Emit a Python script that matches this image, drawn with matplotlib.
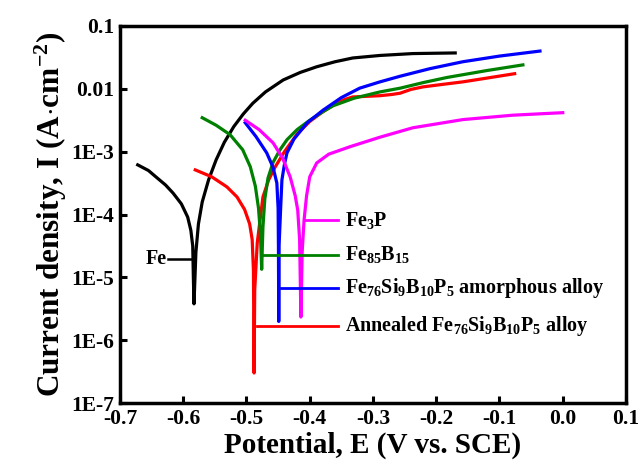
import matplotlib
matplotlib.use('Agg')
import matplotlib.pyplot as plt
import numpy as np
from matplotlib.ticker import FixedLocator, FixedFormatter

plt.rcParams['font.family'] = ['Liberation Serif', 'DejaVu Serif']
plt.rcParams['font.weight'] = 'bold'
plt.rcParams['mathtext.fontset'] = 'custom'
plt.rcParams['mathtext.rm'] = 'Liberation Serif:bold'
plt.rcParams['mathtext.bf'] = 'Liberation Serif:bold'
plt.rcParams['mathtext.default'] = 'rm'

# potential (V vs. SCE) and log10 of current density (A/cm2)
fe_E = [-0.672, -0.655, -0.641, -0.628, -0.616, -0.603, -0.593, -0.588, -0.585, -0.584, -0.583,
        -0.580, -0.576, -0.570, -0.560, -0.548, -0.535, -0.520, -0.505, -0.490, -0.470,
        -0.442, -0.415, -0.389, -0.360, -0.332, -0.289, -0.237, -0.170]
fe_logI = [-3.21, -3.30, -3.42, -3.53, -3.66, -3.83, -4.04, -4.25, -4.50, -5.00, -5.42,
           -4.60, -4.15, -3.80, -3.45, -3.13, -2.85, -2.60, -2.40, -2.23, -2.05,
           -1.86, -1.74, -1.65, -1.57, -1.51, -1.47, -1.44, -1.43]

ann_E = [-0.581, -0.555, -0.531, -0.515, -0.503, -0.495, -0.491, -0.489, -0.488,
         -0.487, -0.483, -0.474, -0.465, -0.455, -0.440, -0.420, -0.400, -0.380, -0.363,
         -0.345, -0.332, -0.310, -0.289, -0.270, -0.257, -0.240, -0.221, -0.190, -0.158,
         -0.120, -0.076]
ann_logI = [-3.29, -3.40, -3.56, -3.72, -3.92, -4.15, -4.40, -4.90, -6.52,
            -5.20, -4.45, -3.72, -3.45, -3.25, -3.00, -2.72, -2.52, -2.37, -2.26,
            -2.17, -2.13, -2.12, -2.11, -2.09, -2.07, -2.01, -1.97, -1.93, -1.89,
            -1.83, -1.76]

feb_E = [-0.570, -0.548, -0.526, -0.506, -0.494, -0.486, -0.481, -0.478, -0.476,
         -0.474, -0.471, -0.466, -0.458, -0.447, -0.436, -0.420, -0.400, -0.380, -0.363,
         -0.330, -0.289, -0.257, -0.220, -0.183, -0.120, -0.063]
feb_logI = [-2.46, -2.58, -2.73, -2.97, -3.24, -3.55, -3.90, -4.30, -4.87,
            -4.20, -3.75, -3.42, -3.17, -2.97, -2.81, -2.65, -2.50, -2.37, -2.27,
            -2.15, -2.05, -1.99, -1.90, -1.82, -1.71, -1.62]

amo_E = [-0.502, -0.485, -0.468, -0.458, -0.452, -0.450, -0.4495, -0.449,
         -0.4485, -0.446, -0.444, -0.440, -0.436, -0.425, -0.404, -0.379, -0.350, -0.321,
         -0.289, -0.257, -0.210, -0.158, -0.100, -0.036]
amo_logI = [-2.54, -2.76, -3.02, -3.25, -3.50, -3.90, -4.50, -5.70,
            -4.50, -3.90, -3.45, -3.20, -3.02, -2.80, -2.54, -2.34, -2.14, -1.99,
            -1.89, -1.80, -1.68, -1.57, -1.48, -1.40]

fep_E = [-0.502, -0.480, -0.458, -0.443, -0.431, -0.423, -0.419, -0.416, -0.414,
         -0.412, -0.409, -0.405, -0.400, -0.389, -0.370, -0.336, -0.289, -0.237, -0.158,
         -0.079, 0.000]
fep_logI = [-2.50, -2.65, -2.86, -3.10, -3.40, -3.70, -3.93, -4.40, -5.63,
            -4.60, -4.09, -3.70, -3.40, -3.18, -3.04, -2.92, -2.77, -2.62, -2.49,
            -2.42, -2.38]

# label text, label level (log10 I), connector start on the curve
labels = [r'Fe$_3$P', r'Fe$_{85}$B$_{15}$',
          r'Fe$_{76}$Si$_9$B$_{10}$P$_5$ amorphous alloy',
          r'Annealed Fe$_{76}$Si$_9$B$_{10}$P$_5$ alloy']
label_logI = [-4.09, -4.64, -5.17, -5.77]
label_E0 = [-0.409, -0.474, -0.445, -0.483]
label_colors = ['#ff00ff', '#008000', '#0000ff', '#ff0000']

xticks = [-0.7, -0.6, -0.5, -0.4, -0.3, -0.2, -0.1, 0.0, 0.1]
xtick_labels = ['-0.7', '-0.6', '-0.5', '-0.4', '-0.3', '-0.2', '-0.1', '0.0', '0.1']
yticks = [1e-7, 1e-6, 1e-5, 1e-4, 1e-3, 1e-2, 1e-1]
ytick_labels = ['1E-7', '1E-6', '1E-5', '1E-4', '1E-3', '0.01', '0.1']

fig = plt.figure(figsize=(6.4, 4.71), dpi=100)
ax = fig.add_axes([0.1875, 0.144, 0.7906, 0.801])

lw = 2.3
ax.plot(fe_E, np.power(10.0, fe_logI), color='black', lw=lw)
ax.plot(ann_E, np.power(10.0, ann_logI), color='#ff0000', lw=lw)
ax.plot(feb_E, np.power(10.0, feb_logI), color='#008000', lw=lw)
ax.plot(amo_E, np.power(10.0, amo_logI), color='#0000ff', lw=lw)
ax.plot(fep_E, np.power(10.0, fep_logI), color='#ff00ff', lw=lw)

# annotation connectors
for txt, yl, x0, c in zip(labels, label_logI, label_E0, label_colors):
    yv = 10.0 ** yl
    ax.plot([x0, -0.355], [yv, yv], color=c, lw=2.0)
    ax.text(-0.345, yv, txt, fontsize=14.5, fontweight='bold', ha='left', va='center')
fe_lab = 10.0 ** -4.71
ax.plot([-0.624, -0.585], [fe_lab, fe_lab], color='black', lw=1.8)
ax.text(-0.626, fe_lab, 'Fe', fontsize=14.5, fontweight='bold', ha='right', va='center')

ax.set_yscale('log')
ax.set_xlim(-0.7, 0.1)
ax.set_ylim(1e-7, 0.1)
ax.xaxis.set_major_locator(FixedLocator(xticks))
ax.xaxis.set_major_formatter(FixedFormatter(xtick_labels))
ax.yaxis.set_major_locator(FixedLocator(yticks))
ax.yaxis.set_major_formatter(FixedFormatter(ytick_labels))
ax.yaxis.set_minor_locator(FixedLocator([]))

ax.tick_params(axis='both', which='major', direction='in', length=5, width=2.2,
               labelsize=15.5)
ax.tick_params(axis='x', pad=4)
ax.tick_params(axis='y', pad=4)
for lab in ax.get_xticklabels() + ax.get_yticklabels():
    lab.set_fontweight('bold')
for s in ax.spines.values():
    s.set_linewidth(2.5)

ax.set_xlabel('Potential, E (V vs. SCE)', fontsize=21, fontweight='bold', labelpad=2)
ax.set_ylabel(r'Current density, I (A$\cdot$cm$^{-2}$)', fontsize=22.5, fontweight='bold', labelpad=2)

plt.savefig('out.png', dpi=100)
plt.close()
